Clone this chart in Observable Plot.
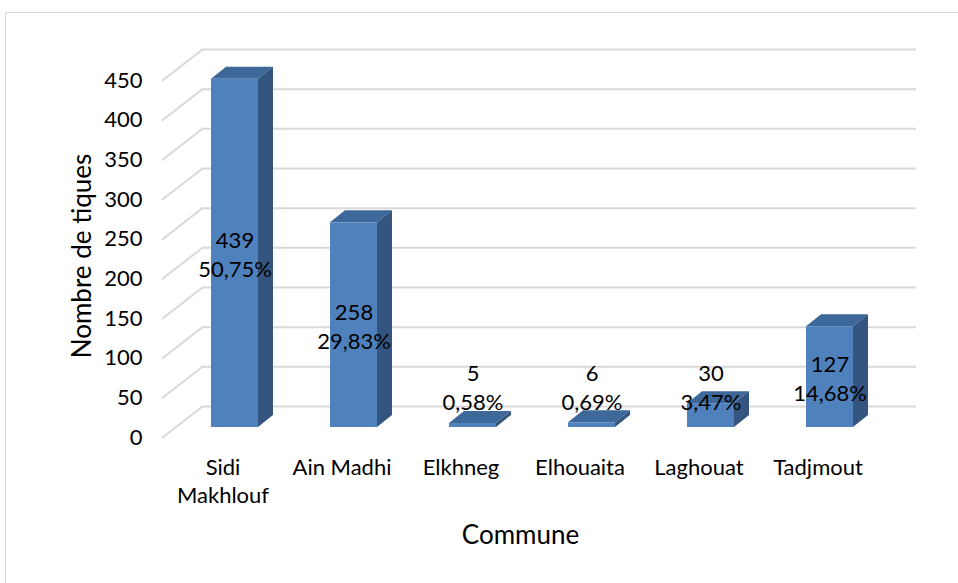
<!DOCTYPE html>
<html><head><meta charset="utf-8">
<script src="https://cdn.jsdelivr.net/npm/d3@7"></script>
<script src="https://cdn.jsdelivr.net/npm/@observablehq/plot@0.6"></script>
<style>
html,body{margin:0;padding:0;background:#fff;overflow:hidden;width:958px;height:583px}
#frame{position:absolute;left:5px;top:12px;width:1000px;height:1000px;border:1px solid #D9D9D9;box-sizing:border-box}
#chart{position:absolute;left:0;top:0}
</style></head><body><div id="frame"></div><div id="chart"></div>
<script>
// ---- data ----
const communes = ["Sidi\nMakhlouf", "Ain Madhi", "Elkhneg", "Elhouaita", "Laghouat", "Tadjmout"];
const counts = [439, 258, 5, 6, 30, 127];
const percents = ["50,75%", "29,83%", "0,58%", "0,69%", "3,47%", "14,68%"];
const yTicks = [0, 50, 100, 150, 200, 250, 300, 350, 400, 450];
const xTitle = "Commune";
const yTitle = "Nombre de tiques";

const rows = communes.map((c, i) => ({commune: c, value: counts[i], pct: percents[i]}));

// ---- style ----
const FRONT = "#4F81BD", TOP = "#3D6899", SIDE = "#33557F", GRID = "#D9D9D9";
const DX = 15, DY = 12;

function bars3d(index, scales, values, dims, context, next) {
  const g = next(index, scales, values, dims, context);
  const ns = "http://www.w3.org/2000/svg";
  const rects = Array.from(g.querySelectorAll("rect"));
  for (const r of rects) {
    const x = +r.getAttribute("x"), y = +r.getAttribute("y");
    const w = +r.getAttribute("width"), h = +r.getAttribute("height");
    r.setAttribute("fill", FRONT);
    const top = document.createElementNS(ns, "path");
    top.setAttribute("d", `M${x},${y}L${x + w},${y}L${x + w + DX},${y - DY}L${x + DX},${y - DY}Z`);
    top.setAttribute("fill", TOP);
    const side = document.createElementNS(ns, "path");
    side.setAttribute("d", `M${x + w},${y}L${x + w + DX},${y - DY}L${x + w + DX},${y + h - DY}L${x + w},${y + h}Z`);
    side.setAttribute("fill", SIDE);
    r.parentNode.insertBefore(top, r);
    r.parentNode.insertBefore(side, r);
  }
  return g;
}

const plot = Plot.plot({
  width: 958,
  height: 583,
  marginLeft: 175,
  marginRight: 69,
  marginTop: 70,
  marginBottom: 156,
  style: {fontFamily: "Lato, 'Open Sans', sans-serif", fontSize: "22px", color: "#000", background: "transparent", overflow: "visible"},
  x: {type: "band", domain: communes, paddingInner: 0.605, paddingOuter: 0.3025, axis: null},
  y: {domain: [0, 450], axis: null},
  marks: [
    Plot.ruleY(yTicks, {y: d => d, dx: 27, dy: -21, stroke: GRID, strokeWidth: 2}),
    Plot.vector(yTicks, {
      y: d => d, frameAnchor: "left", length: 50.6, rotate: 52.2, anchor: "start",
      dx: -13, dy: 10, stroke: GRID, strokeWidth: 2,
      shape: {draw(ctx, l) { ctx.moveTo(0, 0); ctx.lineTo(0, -l); }}
    }),
    Plot.barY(rows, {x: "commune", y: "value", fill: FRONT, render: bars3d}),
    Plot.text(yTicks, {y: d => d, text: d => String(d), frameAnchor: "left", textAnchor: "end", dx: -33, dy: 10, fill: "#000"}),
    Plot.text(rows, {x: "commune", text: "commune", frameAnchor: "bottom", lineAnchor: "top", dx: -12, dy: 27, lineHeight: 1.3, fill: "#000"}),
    Plot.text(rows, {x: "commune", y: d => Math.max(d.value / 2, 52), text: d => d.value + "\n" + d.pct, lineHeight: 1.3, fill: "#000"}),
    Plot.text([xTitle], {text: d => d, frameAnchor: "bottom", textAnchor: "middle", dx: -12, dy: 116, fontSize: 26, fill: "#000"}),
    Plot.text([yTitle], {text: d => d, frameAnchor: "left", textAnchor: "middle", rotate: -90, dx: -93, dy: 7, fontSize: 26, fill: "#000"})
  ]
});
document.getElementById("chart").appendChild(plot);
</script>
</body></html>
